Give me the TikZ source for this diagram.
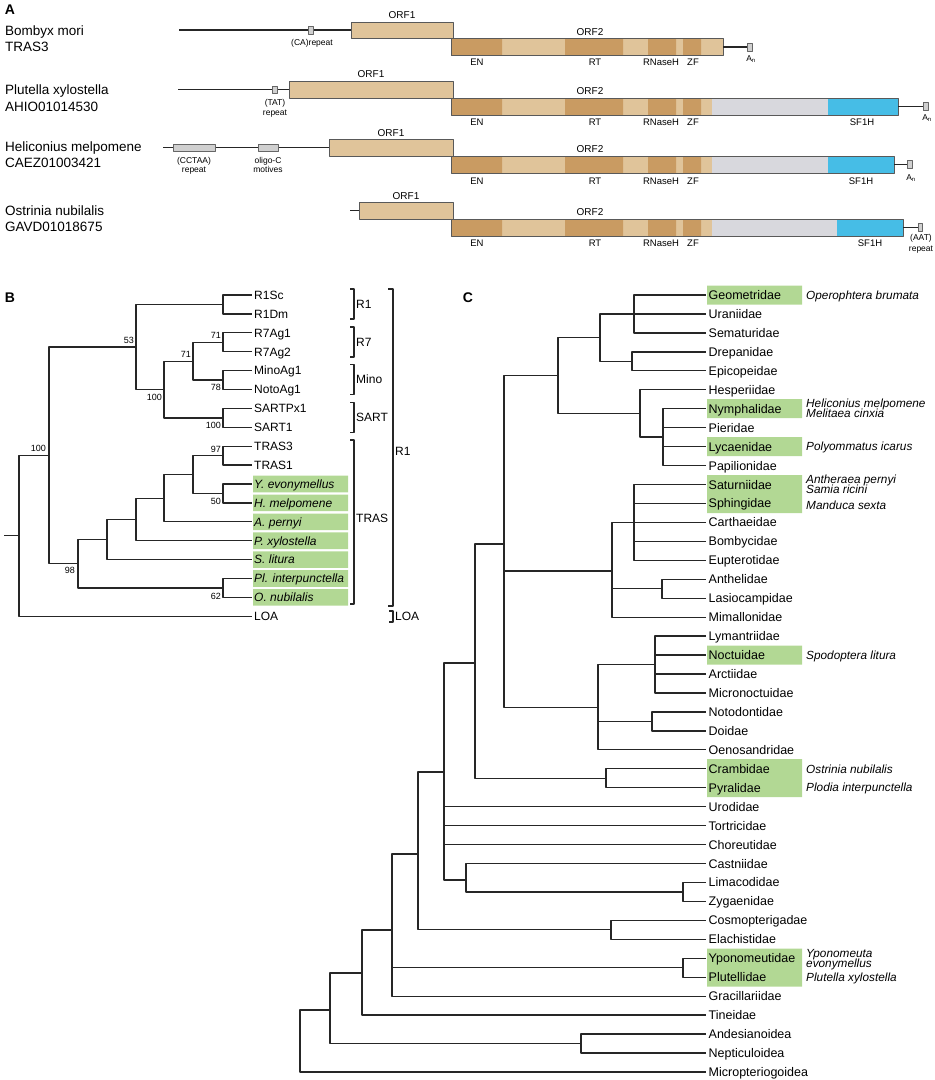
\documentclass[tikz,border=0pt]{standalone}
\usepackage{fontspec}
\setmainfont{Liberation Sans}
\definecolor{orflight}{RGB}{224,196,154}
\definecolor{orfdark}{RGB}{201,155,98}
\definecolor{orfgrey}{RGB}{216,216,221}
\definecolor{orfblue}{RGB}{70,189,230}
\definecolor{lepgreen}{RGB}{178,216,148}
\definecolor{rptgrey}{RGB}{208,208,208}
\begin{document}
\begin{tikzpicture}[x=1pt,y=-1pt,line join=bevel,
  panel/.style={font=\fontsize{14}{14}\selectfont\bfseries,text height=10pt,text depth=0pt,inner sep=0pt},
  gene/.style={anchor=west,font=\fontsize{13.5}{13.5}\selectfont,text height=9.7pt,text depth=0pt,inner sep=0pt},
  orflabel/.style={font=\fontsize{10}{10}\selectfont,text height=7.2pt,text depth=0pt,inner sep=0pt},
  domlabel/.style={font=\fontsize{9.5}{9.5}\selectfont,text height=6.8pt,text depth=0pt,inner sep=0pt},
  smalllabel/.style={font=\fontsize{8.5}{8.5}\selectfont,text height=6.1pt,text depth=0pt,inner sep=0pt},
  orfbox/.style={draw=black!65,line width=0.8pt},
  utr/.style={black!85,line width=1.2pt},
  rptbox/.style={draw=black!60,fill=rptgrey,line width=0.6pt},
  leafb/.style={anchor=west,font=\fontsize{12}{12}\selectfont,text height=8.6pt,text depth=0pt,inner xsep=2pt,inner ysep=0pt},
  leafc/.style={anchor=west,font=\fontsize{12.5}{12.5}\selectfont,text height=9pt,text depth=0pt,inner xsep=2.5pt,inner ysep=0pt},
  species/.style={anchor=west,font=\fontsize{11.8}{11.8}\selectfont\itshape,text height=8.5pt,text depth=0pt,inner sep=0pt},
  boot/.style={anchor=east,font=\fontsize{9}{9}\selectfont,text height=6.5pt,text depth=0pt,inner sep=0pt},
  branch/.style={black!85,line width=1.3pt},
  bracket/.style={black!85,line width=1.2pt},
]
\useasboundingbox (0,0) rectangle (935,1080);
%% panel A
\node (lbl_a) at (10,9) [panel] {A};
%
\node (a_sp1) at (5,31) [gene] {Bombyx mori};
  \node (a_id1) at (5,47) [gene] {TRAS3};
  \draw[utr] (179,30) -- (351,30);
  \draw[rptbox] (308,26.5) rectangle (313,34);
  \node (a_rp1) at (312,42) [smalllabel] {(CA)repeat};
  \draw[orfbox,fill=orflight] (351,22) rectangle (453,38.5);
  \fill[orflight] (451,38.5) rectangle (723,55.5);
  \fill[orfdark] (451,38.5) rectangle (502,55.5) (565,38.5) rectangle (623,55.5) (648,38.5) rectangle (676,55.5) (683,38.5) rectangle (701,55.5);
  \draw[orfbox] (451,38.5) rectangle (723,55.5);
  \draw[utr] (723,47) -- (747,47);
  \draw[rptbox] (747,43) rectangle (752,51);
  \node (a_o11) at (402,15) [orflabel] {ORF1};
  \node (a_o21) at (590,32) [orflabel] {ORF2};
  \node (a_en1) at (477,62) [domlabel] {EN};
  \node (a_rt1) at (595,62) [domlabel] {RT};
  \node (a_rh1) at (661,62) [domlabel] {RNaseH};
  \node (a_zf1) at (693,62) [domlabel] {ZF};
  \node (a_an1) at (751,58) [smalllabel] {A\textsubscript{n}};
%
\node (a_sp2) at (5,90) [gene] {Plutella xylostella};
  \node (a_id2) at (5,107) [gene] {AHIO01014530};
  \draw[utr] (178,89.5) -- (289,89.5);
  \draw[rptbox] (272,86) rectangle (277,93.5);
  \node (a_rp2a) at (275,102) [smalllabel] {(TAT)};
  \node (a_rp2b) at (275,112) [smalllabel] {repeat};
  \draw[orfbox,fill=orflight] (289,81) rectangle (453,98);
  \fill[orflight] (451,98) rectangle (712,115);
  \fill[orfdark] (451,98) rectangle (502,115) (565,98) rectangle (623,115) (648,98) rectangle (676,115) (683,98) rectangle (701,115);
  \fill[orfgrey] (712,98) rectangle (828,115);
  \fill[orfblue] (828,98) rectangle (898,115);
  \draw[orfbox] (451,98) rectangle (898,115);
  \draw[utr] (898,106.5) -- (923,106.5);
  \draw[rptbox] (923,102.5) rectangle (928,110.5);
  \node (a_o12) at (371,74) [orflabel] {ORF1};
  \node (a_o22) at (590,91) [orflabel] {ORF2};
  \node (a_en2) at (477,122) [domlabel] {EN};
  \node (a_rt2) at (595,122) [domlabel] {RT};
  \node (a_rh2) at (661,122) [domlabel] {RNaseH};
  \node (a_zf2) at (693,122) [domlabel] {ZF};
  \node (a_sf2) at (862,122) [domlabel] {SF1H};
  \node (a_an2) at (927,117) [smalllabel] {A\textsubscript{n}};
%
\node (a_sp3) at (5,147) [gene] {Heliconius melpomene};
  \node (a_id3) at (5,163) [gene] {CAEZ01003421};
  \draw[utr] (163,147.5) -- (329,147.5);
  \draw[rptbox] (173,144) rectangle (215,151);
  \draw[rptbox] (258,144) rectangle (278,151);
  \node (a_rp3a) at (194,160) [smalllabel] {(CCTAA)};
  \node (a_rp3b) at (194,169) [smalllabel] {repeat};
  \node (a_ol3a) at (268,160) [smalllabel] {oligo-C};
  \node (a_ol3b) at (268,169) [smalllabel] {motives};
  \draw[orfbox,fill=orflight] (329,139) rectangle (453,156);
  \fill[orflight] (451,156) rectangle (712,173);
  \fill[orfdark] (451,156) rectangle (502,173) (565,156) rectangle (623,173) (648,156) rectangle (676,173) (683,156) rectangle (701,173);
  \fill[orfgrey] (712,156) rectangle (828,173);
  \fill[orfblue] (828,156) rectangle (894,173);
  \draw[orfbox] (451,156) rectangle (894,173);
  \draw[utr] (894,164.5) -- (907,164.5);
  \draw[rptbox] (907,160.5) rectangle (912,168.5);
  \node (a_o13) at (391,133) [orflabel] {ORF1};
  \node (a_o23) at (590,149) [orflabel] {ORF2};
  \node (a_en3) at (477,181) [domlabel] {EN};
  \node (a_rt3) at (595,181) [domlabel] {RT};
  \node (a_rh3) at (661,181) [domlabel] {RNaseH};
  \node (a_zf3) at (693,181) [domlabel] {ZF};
  \node (a_sf3) at (861,181) [domlabel] {SF1H};
  \node (a_an3) at (911,177) [smalllabel] {A\textsubscript{n}};
%
\node (a_sp4) at (5,211) [gene] {Ostrinia nubilalis};
  \node (a_id4) at (5,227) [gene] {GAVD01018675};
  \draw[utr] (350,210.5) -- (359,210.5);
  \draw[orfbox,fill=orflight] (359,202) rectangle (453,219);
  \fill[orflight] (451,219) rectangle (712,236);
  \fill[orfdark] (451,219) rectangle (502,236) (565,219) rectangle (623,236) (648,219) rectangle (676,236) (683,219) rectangle (701,236);
  \fill[orfgrey] (712,219) rectangle (837,236);
  \fill[orfblue] (837,219) rectangle (903,236);
  \draw[orfbox] (451,219) rectangle (903,236);
  \draw[utr] (903,227.5) -- (918,227.5);
  \draw[rptbox] (918,223.5) rectangle (922.5,231.5);
  \node (a_o14) at (406,196) [orflabel] {ORF1};
  \node (a_o24) at (590,212) [orflabel] {ORF2};
  \node (a_en4) at (477,243) [domlabel] {EN};
  \node (a_rt4) at (595,243) [domlabel] {RT};
  \node (a_rh4) at (661,243) [domlabel] {RNaseH};
  \node (a_zf4) at (693,243) [domlabel] {ZF};
  \node (a_sf4) at (870,243) [domlabel] {SF1H};
  \node (a_rp4a) at (921,237) [smalllabel] {(AAT)};
  \node (a_rp4b) at (921,248) [smalllabel] {repeat};
%% panel B
\node (lbl_b) at (10,297) [panel] {B};
%
\fill[lepgreen] (253,475.7) rectangle (348,492.3) (253,494.6) rectangle (348,511.2) (253,513.5) rectangle (348,530.1) (253,532.4) rectangle (348,549.0) (253,551.3) rectangle (348,567.9) (253,570.2) rectangle (348,586.8) (253,589.1) rectangle (348,605.7);
%
\node (b_0) at (252,295.0) [leafb] {R1Sc};
  \node (b_1) at (252,313.9) [leafb] {R1Dm};
  \node (b_2) at (252,332.8) [leafb] {R7Ag1};
  \node (b_3) at (252,351.7) [leafb] {R7Ag2};
  \node (b_4) at (252,370.6) [leafb] {MinoAg1};
  \node (b_5) at (252,389.5) [leafb] {NotoAg1};
  \node (b_6) at (252,408.4) [leafb] {SARTPx1};
  \node (b_7) at (252,427.3) [leafb] {SART1};
  \node (b_8) at (252,446.2) [leafb] {TRAS3};
  \node (b_9) at (252,465.1) [leafb] {TRAS1};
  \node (b_10) at (252,484.0) [leafb] {\itshape Y. evonymellus};
  \node (b_11) at (252,502.9) [leafb] {\itshape H. melpomene};
  \node (b_12) at (252,521.8) [leafb] {\itshape A. pernyi};
  \node (b_13) at (252,540.7) [leafb] {\itshape P. xylostella};
  \node (b_14) at (252,559.6) [leafb] {\itshape S. litura};
  \node (b_15) at (252,578.5) [leafb] {\itshape Pl. interpunctella};
  \node (b_16) at (252,597.4) [leafb] {\itshape O. nubilalis};
  \node (b_17) at (252,616.3) [leafb] {LOA};
%
\coordinate (bn_r1) at (223,304.45);
  \coordinate (bn_r7) at (223,342.25);
  \coordinate (bn_mino) at (223,380.05);
  \coordinate (bn_sart) at (223,417.85);
  \coordinate (bn_r7mino) at (193,361.15);
  \coordinate (bn_rsart) at (164,389.5);
  \coordinate (bn_r1all) at (136,346.98);
  \coordinate (bn_tras) at (223,455.65);
  \coordinate (bn_yh) at (223,493.45);
  \coordinate (bn_tyh) at (193,474.55);
  \coordinate (bn_ap) at (164,498.2);
  \coordinate (bn_px) at (136,519.45);
  \coordinate (bn_sl) at (107,539.5);
  \coordinate (bn_po) at (223,587.95);
  \coordinate (bn_trasall) at (78,563.7);
  \coordinate (bn_r1t) at (49,455.3);
  \coordinate (bn_root) at (19,535.8);
  \coordinate (bn_stem) at (4,535.8);
%
\draw[branch] (bn_r1) |- (b_0.west);
  \draw[branch] (bn_r1) |- (b_1.west);
  \draw[branch] (bn_r7) |- (b_2.west);
  \draw[branch] (bn_r7) |- (b_3.west);
  \draw[branch] (bn_mino) |- (b_4.west);
  \draw[branch] (bn_mino) |- (b_5.west);
  \draw[branch] (bn_sart) |- (b_6.west);
  \draw[branch] (bn_sart) |- (b_7.west);
  \draw[branch] (bn_r7mino) |- (bn_r7);
  \draw[branch] (bn_r7mino) |- (bn_mino);
  \draw[branch] (bn_rsart) |- (bn_r7mino);
  \draw[branch] (bn_rsart) |- (bn_sart);
  \draw[branch] (bn_r1all) |- (bn_r1);
  \draw[branch] (bn_r1all) |- (bn_rsart);
  \draw[branch] (bn_tras) |- (b_8.west);
  \draw[branch] (bn_tras) |- (b_9.west);
  \draw[branch] (bn_yh) |- (b_10.west);
  \draw[branch] (bn_yh) |- (b_11.west);
  \draw[branch] (bn_tyh) |- (bn_tras);
  \draw[branch] (bn_tyh) |- (bn_yh);
  \draw[branch] (bn_ap) |- (bn_tyh);
  \draw[branch] (bn_ap) |- (b_12.west);
  \draw[branch] (bn_px) |- (bn_ap);
  \draw[branch] (bn_px) |- (b_13.west);
  \draw[branch] (bn_sl) |- (bn_px);
  \draw[branch] (bn_sl) |- (b_14.west);
  \draw[branch] (bn_po) |- (b_15.west);
  \draw[branch] (bn_po) |- (b_16.west);
  \draw[branch] (bn_trasall) |- (bn_sl);
  \draw[branch] (bn_trasall) |- (bn_po);
  \draw[branch] (bn_r1t) |- (bn_r1all);
  \draw[branch] (bn_r1t) |- (bn_trasall);
  \draw[branch] (bn_root) |- (bn_r1t);
  \draw[branch] (bn_root) |- (b_17.west);
  \draw[branch] (bn_stem) -- (bn_root);
%
\node (bs_53) at (134,340) [boot] {53};
  \node (bs_r7) at (221,335) [boot] {71};
  \node (bs_r7m) at (191,354) [boot] {71};
  \node (bs_mino) at (221,387.5) [boot] {78};
  \node (bs_sart) at (221,425.5) [boot] {100};
  \node (bs_rsart) at (162,397) [boot] {100};
  \node (bs_r1t) at (46,448) [boot] {100};
  \node (bs_tras) at (221,449) [boot] {97};
  \node (bs_yh) at (221,501) [boot] {50};
  \node (bs_po) at (221,596) [boot] {62};
  \node (bs_98) at (75,570.5) [boot] {98};
%
\draw[bracket] (350,289) -- (354,289) -- (354,319) -- (350,319);
  \draw[bracket] (350,327) -- (354,327) -- (354,357) -- (350,357);
  \draw[bracket] (350,364.5) -- (354,364.5) -- (354,394.5) -- (350,394.5);
  \draw[bracket] (350,402.5) -- (354,402.5) -- (354,432.5) -- (350,432.5);
  \draw[bracket] (350,440) -- (354,440) -- (354,604) -- (350,604);
  \draw[bracket] (388,289) -- (393,289) -- (393,606) -- (388,606);
  \draw[bracket] (389,611) -- (393,611) -- (393,622) -- (389,622);
  \node (br_r1) at (354,304) [leafb] {R1};
  \node (br_r7) at (354,342) [leafb] {R7};
  \node (br_mino) at (354,379.5) [leafb] {Mino};
  \node (br_sart) at (354,417.5) [leafb] {SART};
  \node (br_tras) at (354,518) [leafb] {TRAS};
  \node (br_r1all) at (393,451) [leafb] {R1};
  \node (br_loa) at (393,616.5) [leafb] {LOA};
%% panel C
\node (lbl_c) at (468,297) [panel] {C};
%
\fill[lepgreen] (707,285.5) rectangle (802,304.5) (707,399.2) rectangle (802,418.2) (707,437.1) rectangle (802,456.1) (707,475.0) rectangle (802,513.0) (707,645.5) rectangle (802,664.5) (707,759.2) rectangle (802,797.2) (707,948.7) rectangle (802,986.7);
%
\node (c_0) at (706,295.00) [leafc] {Geometridae};
  \node (c_1) at (706,313.95) [leafc] {Uraniidae};
  \node (c_2) at (706,332.90) [leafc] {Sematuridae};
  \node (c_3) at (706,351.85) [leafc] {Drepanidae};
  \node (c_4) at (706,370.80) [leafc] {Epicopeidae};
  \node (c_5) at (706,389.75) [leafc] {Hesperiidae};
  \node (c_6) at (706,408.70) [leafc] {Nymphalidae};
  \node (c_7) at (706,427.65) [leafc] {Pieridae};
  \node (c_8) at (706,446.60) [leafc] {Lycaenidae};
  \node (c_9) at (706,465.55) [leafc] {Papilionidae};
  \node (c_10) at (706,484.50) [leafc] {Saturniidae};
  \node (c_11) at (706,503.45) [leafc] {Sphingidae};
  \node (c_12) at (706,522.40) [leafc] {Carthaeidae};
  \node (c_13) at (706,541.35) [leafc] {Bombycidae};
  \node (c_14) at (706,560.30) [leafc] {Eupterotidae};
  \node (c_15) at (706,579.25) [leafc] {Anthelidae};
  \node (c_16) at (706,598.20) [leafc] {Lasiocampidae};
  \node (c_17) at (706,617.15) [leafc] {Mimallonidae};
  \node (c_18) at (706,636.10) [leafc] {Lymantriidae};
  \node (c_19) at (706,655.05) [leafc] {Noctuidae};
  \node (c_20) at (706,674.00) [leafc] {Arctiidae};
  \node (c_21) at (706,692.95) [leafc] {Micronoctuidae};
  \node (c_22) at (706,711.90) [leafc] {Notodontidae};
  \node (c_23) at (706,730.85) [leafc] {Doidae};
  \node (c_24) at (706,749.80) [leafc] {Oenosandridae};
  \node (c_25) at (706,768.75) [leafc] {Crambidae};
  \node (c_26) at (706,787.70) [leafc] {Pyralidae};
  \node (c_27) at (706,806.65) [leafc] {Urodidae};
  \node (c_28) at (706,825.60) [leafc] {Tortricidae};
  \node (c_29) at (706,844.55) [leafc] {Choreutidae};
  \node (c_30) at (706,863.50) [leafc] {Castniidae};
  \node (c_31) at (706,882.45) [leafc] {Limacodidae};
  \node (c_32) at (706,901.40) [leafc] {Zygaenidae};
  \node (c_33) at (706,920.35) [leafc] {Cosmopterigadae};
  \node (c_34) at (706,939.30) [leafc] {Elachistidae};
  \node (c_35) at (706,958.25) [leafc] {Yponomeutidae};
  \node (c_36) at (706,977.20) [leafc] {Plutellidae};
  \node (c_37) at (706,996.15) [leafc] {Gracillariidae};
  \node (c_38) at (706,1015.10) [leafc] {Tineidae};
  \node (c_39) at (706,1034.05) [leafc] {Andesianoidea};
  \node (c_40) at (706,1053.00) [leafc] {Nepticuloidea};
  \node (c_41) at (706,1071.95) [leafc] {Micropteriogoidea};
%
\node (s_0) at (806,295.00) [species] {Operophtera brumata};
  \node (s_6a) at (806,403.5) [species] {Heliconius melpomene};
  \node (s_6b) at (806,413.5) [species] {Melitaea cinxia};
  \node (s_8) at (806,446.60) [species] {Polyommatus icarus};
  \node (s_10a) at (806,479.5) [species] {Antheraea pernyi};
  \node (s_10b) at (806,489.5) [species] {Samia ricini};
  \node (s_11) at (806,505.0) [species] {Manduca sexta};
  \node (s_19) at (806,655.05) [species] {Spodoptera litura};
  \node (s_25) at (806,768.75) [species] {Ostrinia nubilalis};
  \node (s_26) at (806,787.70) [species] {Plodia interpunctella};
  \node (s_35a) at (806,953.5) [species] {Yponomeuta};
  \node (s_35b) at (806,963.5) [species] {evonymellus};
  \node (s_36) at (806,977.20) [species] {Plutella xylostella};
%
\coordinate (cn_geo) at (634,313.95);
  \coordinate (cn_dre) at (632,361.33);
  \coordinate (cn_gd) at (600,337.6);
  \coordinate (cn_pap) at (663,437.1);
  \coordinate (cn_hes) at (640,413.4);
  \coordinate (cn_obt) at (558,375.5);
  \coordinate (cn_bom) at (634,522.4);
  \coordinate (cn_las) at (662,588.7);
  \coordinate (cn_bmb) at (612,571);
  \coordinate (cn_noc) at (655,664.5);
  \coordinate (cn_not) at (652,721.4);
  \coordinate (cn_noct) at (598,707.2);
  \coordinate (cn_macro) at (504,544);
  \coordinate (cn_pyr) at (606,778.2);
  \coordinate (cn_ob) at (475,663);
  \coordinate (cn_lz) at (683,891.9);
  \coordinate (cn_cas) at (466,880);
  \coordinate (cn_apo) at (444,772);
  \coordinate (cn_ge) at (611,929.8);
  \coordinate (cn_gel) at (418,854);
  \coordinate (cn_yp) at (683,967.7);
  \coordinate (cn_ditr) at (392,930);
  \coordinate (cn_dit2) at (362,973);
  \coordinate (cn_an) at (581,1043.5);
  \coordinate (cn_glo) at (330,1010);
  \coordinate (cn_root) at (300,1041);
%
\draw[branch] (cn_geo) |- (c_0.west);
  \draw[branch] (cn_geo) |- (c_1.west);
  \draw[branch] (cn_geo) |- (c_2.west);
  \draw[branch] (cn_dre) |- (c_3.west);
  \draw[branch] (cn_dre) |- (c_4.west);
  \draw[branch] (cn_gd) |- (cn_geo);
  \draw[branch] (cn_gd) |- (cn_dre);
  \draw[branch] (cn_pap) |- (c_6.west);
  \draw[branch] (cn_pap) |- (c_7.west);
  \draw[branch] (cn_pap) |- (c_8.west);
  \draw[branch] (cn_pap) |- (c_9.west);
  \draw[branch] (cn_hes) |- (c_5.west);
  \draw[branch] (cn_hes) |- (cn_pap);
  \draw[branch] (cn_obt) |- (cn_gd);
  \draw[branch] (cn_obt) |- (cn_hes);
  \draw[branch] (cn_bom) |- (c_10.west);
  \draw[branch] (cn_bom) |- (c_11.west);
  \draw[branch] (cn_bom) |- (c_12.west);
  \draw[branch] (cn_bom) |- (c_13.west);
  \draw[branch] (cn_bom) |- (c_14.west);
  \draw[branch] (cn_las) |- (c_15.west);
  \draw[branch] (cn_las) |- (c_16.west);
  \draw[branch] (cn_bmb) |- (cn_bom);
  \draw[branch] (cn_bmb) |- (cn_las);
  \draw[branch] (cn_bmb) |- (c_17.west);
  \draw[branch] (cn_noc) |- (c_18.west);
  \draw[branch] (cn_noc) |- (c_19.west);
  \draw[branch] (cn_noc) |- (c_20.west);
  \draw[branch] (cn_noc) |- (c_21.west);
  \draw[branch] (cn_not) |- (c_22.west);
  \draw[branch] (cn_not) |- (c_23.west);
  \draw[branch] (cn_noct) |- (cn_noc);
  \draw[branch] (cn_noct) |- (cn_not);
  \draw[branch] (cn_noct) |- (c_24.west);
  \draw[branch] (cn_macro) |- (cn_obt);
  \draw[branch] (cn_macro) |- (cn_bmb);
  \draw[branch] (cn_macro) |- (cn_noct);
  \draw[branch] (cn_pyr) |- (c_25.west);
  \draw[branch] (cn_pyr) |- (c_26.west);
  \draw[branch] (cn_ob) |- (cn_macro);
  \draw[branch] (cn_ob) |- (cn_pyr);
  \draw[branch] (cn_lz) |- (c_31.west);
  \draw[branch] (cn_lz) |- (c_32.west);
  \draw[branch] (cn_cas) |- (c_30.west);
  \draw[branch] (cn_cas) |- (cn_lz);
  \draw[branch] (cn_apo) |- (cn_ob);
  \draw[branch] (cn_apo) |- (c_27.west);
  \draw[branch] (cn_apo) |- (c_28.west);
  \draw[branch] (cn_apo) |- (c_29.west);
  \draw[branch] (cn_apo) |- (cn_cas);
  \draw[branch] (cn_ge) |- (c_33.west);
  \draw[branch] (cn_ge) |- (c_34.west);
  \draw[branch] (cn_gel) |- (cn_apo);
  \draw[branch] (cn_gel) |- (cn_ge);
  \draw[branch] (cn_yp) |- (c_35.west);
  \draw[branch] (cn_yp) |- (c_36.west);
  \draw[branch] (cn_ditr) |- (cn_gel);
  \draw[branch] (cn_ditr) |- (cn_yp);
  \draw[branch] (cn_ditr) |- (c_37.west);
  \draw[branch] (cn_dit2) |- (cn_ditr);
  \draw[branch] (cn_dit2) |- (c_38.west);
  \draw[branch] (cn_an) |- (c_39.west);
  \draw[branch] (cn_an) |- (c_40.west);
  \draw[branch] (cn_glo) |- (cn_dit2);
  \draw[branch] (cn_glo) |- (cn_an);
  \draw[branch] (cn_root) |- (cn_glo);
  \draw[branch] (cn_root) |- (c_41.west);
%
\end{tikzpicture}
\end{document}
